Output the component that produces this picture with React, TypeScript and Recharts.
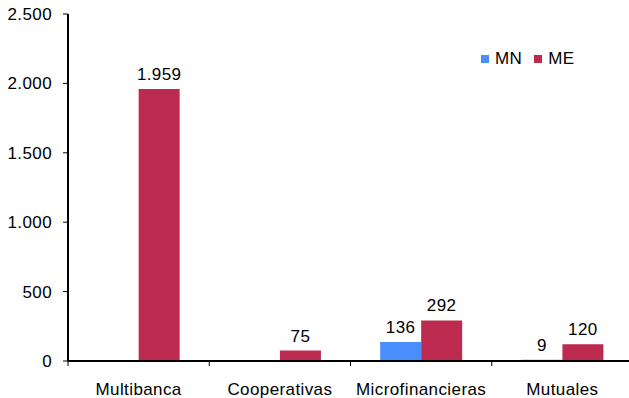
import { Bar, BarChart, LabelList, XAxis, YAxis } from "recharts";

const categories = ["Multibanca", "Cooperativas", "Microfinancieras", "Mutuales"];
const mnValues = [0, 0, 136, 9];
const meValues = [1959, 75, 292, 120];
const yTicks = [0, 500, 1000, 1500, 2000, 2500];

const MN_COLOR = "#4A8DFD";
const ME_COLOR = "#BD2A50";
const FONT = "'Liberation Sans', Arial, sans-serif";
const FS = 17;
const LS = 0.4;

const data = categories.map((name, i) => ({ name, MN: mnValues[i], ME: meValues[i] }));

// 1959 -> "1.959"
const fmt = (v: any) => {
  if (v === null || v === undefined || v === 0) return "";
  return String(v).replace(/\B(?=(\d{3})+(?!\d))/g, ".");
};

// category label in the middle, tick mark on the band boundary
const CategoryTick = (props: any) => {
  const { x, y, payload } = props;
  const half = payload.offset || 0;
  return (
    <g>
      <line x1={x - half} y1={y} x2={x - half} y2={y + 5} stroke="#000" strokeWidth={1} />
      <text x={x} y={y + 22} dy="0.71em" textAnchor="middle" fontSize={FS} letterSpacing={LS} fontFamily={FONT} fill="#000">
        {payload.value}
      </text>
    </g>
  );
};

const LegendBox = () => (
  <div
    style={{
      position: "absolute",
      left: 481,
      top: 49,
      display: "flex",
      alignItems: "center",
      fontFamily: FONT,
      fontSize: FS,
      letterSpacing: LS,
      color: "#000",
    }}
  >
    <span style={{ width: 8, height: 8, background: MN_COLOR, display: "inline-block", marginRight: 6 }} />
    <span style={{ marginRight: 12 }}>MN</span>
    <span style={{ width: 8, height: 8, background: ME_COLOR, display: "inline-block", marginRight: 6 }} />
    <span>ME</span>
  </div>
);

export default function App() {
  return (
    <div style={{ position: "absolute", left: 0, top: 0, width: 629, height: 398, overflow: "hidden", background: "#fff" }}>
      <BarChart
        width={633}
        height={398}
        data={data}
        margin={{ top: 14, right: 0, left: 0, bottom: 0 }}
        barCategoryGap="21%"
        barGap={0}
      >
        <XAxis
          dataKey="name"
          height={37}
          tickSize={0}
          tickMargin={0}
          tickLine={false}
          axisLine={{ stroke: "#000", strokeWidth: 2 }}
          tick={<CategoryTick />}
          interval={0}
        />
        <YAxis
          width={68}
          domain={[0, 2500]}
          ticks={yTicks}
          tickFormatter={(v) => (v === 0 ? "0" : fmt(v))}
          tickSize={5}
          tickMargin={11}
          tickLine={{ stroke: "#000" }}
          axisLine={{ stroke: "#000", strokeWidth: 2 }}
          tick={{ fill: "#000", fontSize: FS, letterSpacing: LS, fontFamily: FONT }}
          interval={0}
        />
        <Bar dataKey="MN" fill={MN_COLOR} isAnimationActive={false}>
          <LabelList dataKey="MN" position="top" offset={9} formatter={fmt} fill="#000" fontSize={FS} letterSpacing={LS} fontFamily={FONT} />
        </Bar>
        <Bar dataKey="ME" fill={ME_COLOR} isAnimationActive={false}>
          <LabelList dataKey="ME" position="top" offset={9} formatter={fmt} fill="#000" fontSize={FS} letterSpacing={LS} fontFamily={FONT} />
        </Bar>
      </BarChart>
      <LegendBox />
    </div>
  );
}
